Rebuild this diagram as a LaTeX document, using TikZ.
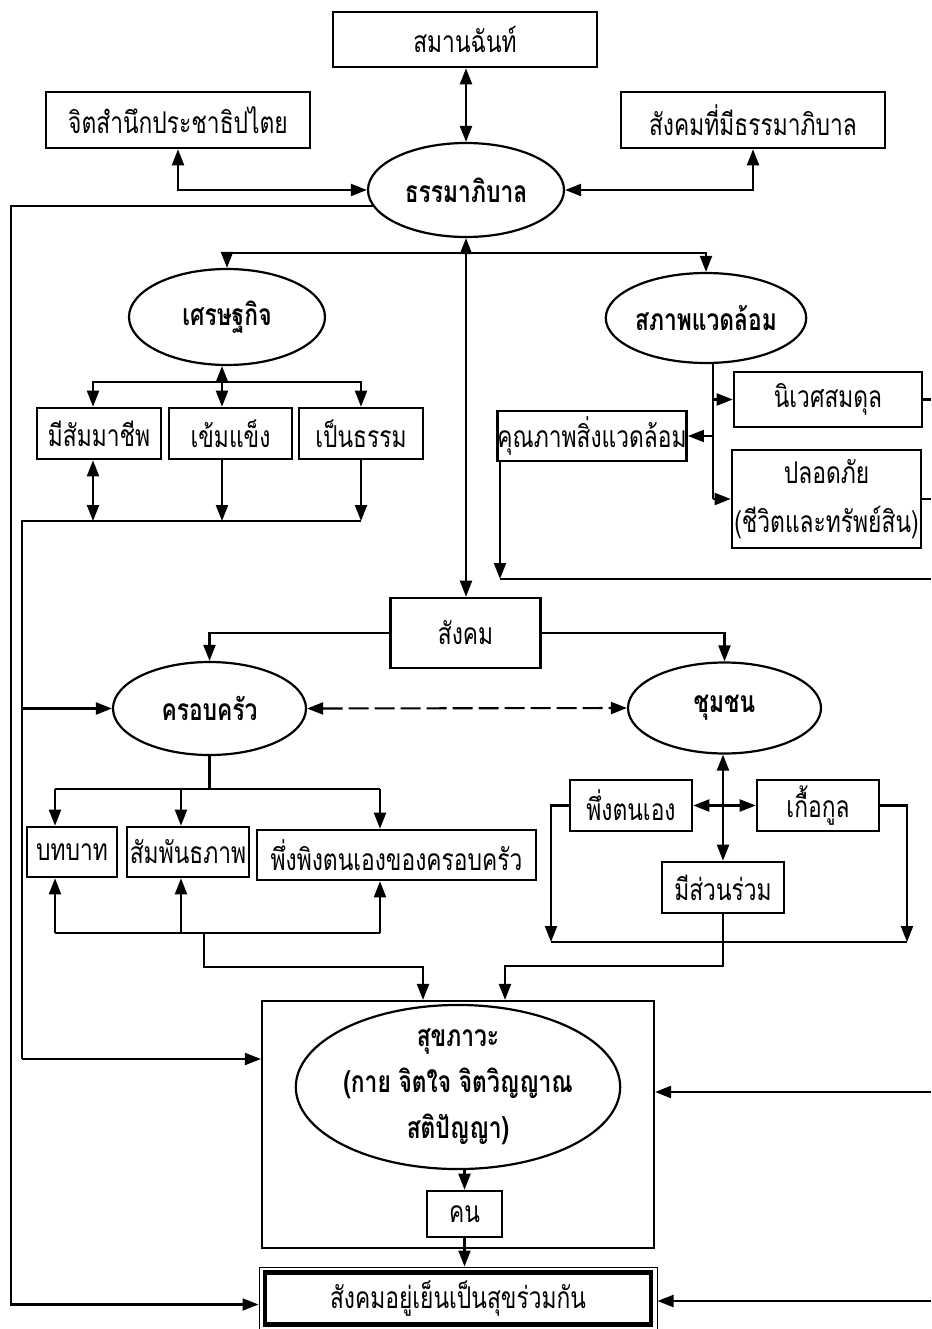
\documentclass[tikz,border=0pt]{standalone}
\usepackage{fontspec}
\newfontfamily\thai[Script=Thai, FakeStretch=0.76]{Loma}
\usetikzlibrary{arrows.meta,shapes.geometric,calc}

\begin{document}
\begin{tikzpicture}[x=1pt,y=-1pt,
  txt/.style={font=\thai\fontsize{30}{46}\selectfont, align=center},
  box/.style={txt, draw, line width=2.6pt, fill=white, inner sep=0pt},
  oval/.style={txt, draw, ellipse, line width=2.2pt, fill=white, inner sep=0pt, font=\thai\bfseries\fontsize{30}{46}\selectfont},
  link/.style={line width=2.1pt},
  arr/.style={link, -{Triangle[length=16pt,width=12pt]}},
  both/.style={link, {Triangle[length=16pt,width=12pt]}-{Triangle[length=16pt,width=12pt]}},
  dashlink/.style={both, dash pattern=on 20pt off 6pt},
]
\useasboundingbox (0,0) rectangle (931,1329);

% ---- top level ----
\node[box, minimum width=264pt, minimum height=55pt] (saman)   at (465,39.5) {สมานฉันท์};
\node[box, minimum width=264pt, minimum height=56pt] (jit)     at (178,120)  {จิตสำนึกประชาธิปไตย};
\node[box, minimum width=264pt, minimum height=56pt] (sangthi) at (753,120)  {สังคมที่มีธรรมาภิบาล};
\node[oval, minimum width=196pt, minimum height=94pt] (thamma) at (466,190) {ธรรมาภิบาล};

% ---- economy and environment ----
\node[oval, minimum width=196pt, minimum height=96pt] (econ) at (227,317) {เศรษฐกิจ};
\node[oval, minimum width=198pt, minimum height=90pt] (env)  at (706,318) {สภาพแวดล้อม};

\node[box, minimum width=124pt, minimum height=51pt] (mee)  at (99,433.5)  {มีสัมมาชีพ};
\node[box, minimum width=123pt, minimum height=51pt] (khem) at (230.5,433.5) {เข้มแข็ง};
\node[box, minimum width=124pt, minimum height=51pt] (pen)  at (361,433.5) {เป็นธรรม};

\node[box, minimum width=186pt, minimum height=50pt] (khun)  at (592,436)   {คุณภาพสิ่งแวดล้อม};
\node[box, minimum width=188pt, minimum height=55pt] (nivet) at (828,399.5) {นิเวศสมดุล};
\node[box, minimum width=189pt, minimum height=98pt, font=\thai\fontsize{30}{49}\selectfont] (plod) at (826.5,499) {ปลอดภัย\\(ชีวิตและทรัพย์สิน)};

% ---- society ----
\node[box, minimum width=150pt, minimum height=70pt] (sangkhom) at (465.5,633) {สังคม};
\node[oval, minimum width=193pt, minimum height=93pt] (family)    at (209.5,708.5) {ครอบครัว};
\node[oval, minimum width=193pt, minimum height=91pt] (community) at (724.5,708)   {ชุมชน};

\node[box, minimum width=90pt,  minimum height=50pt] (bot)     at (72,852)    {บทบาท};
\node[box, minimum width=122pt, minimum height=50pt] (samphan) at (188,852)   {สัมพันธภาพ};
\node[box, minimum width=279pt, minimum height=50pt] (phueng)  at (396.5,855) {พึ่งพิงตนเองของครอบครัว};

\node[box, minimum width=122pt, minimum height=51pt] (pheungton) at (631,805.5) {พึ่งตนเอง};
\node[box, minimum width=122pt, minimum height=51pt] (kueakun)   at (818,805.5) {เกื้อกูล};
\node[box, minimum width=122pt, minimum height=51pt] (meesuan)   at (723,887.5) {มีส่วนร่วม};

% ---- well-being ----
\node[draw, line width=2.2pt, fill=white, minimum width=392pt, minimum height=247pt] (outer) at (458,1124.5) {};
\node[oval, minimum width=320pt, minimum height=150pt] (health) at (458,1087) {สุขภาวะ\\(กาย จิตใจ จิตวิญญาณ\\สติปัญญา)};
\node[box, minimum width=75pt, minimum height=46pt] (khon) at (464.5,1214) {คน};

\node[draw, line width=1pt, fill=white, minimum width=398pt, minimum height=63pt] (finalframe) at (458,1298.5) {};
\node[box, line width=4.5pt, minimum width=386pt, minimum height=52pt] (final) at (458,1298.5) {สังคมอยู่เย็นเป็นสุขร่วมกัน};

% ---- rail and bus coordinates ----
\coordinate (railO) at (11,0);
\coordinate (railI) at (22,521);
\coordinate (R)     at (931,0);
\coordinate (busT)  at (0,253);
\coordinate (ex)    at (222,0);
\coordinate (busE)  at (0,382);
\coordinate (et)    at (713,0);
\coordinate (busV)  at (500,579);
\coordinate (busF)  at (0,789);
\coordinate (busG)  at (0,933);
\coordinate (fa)    at (55,0);
\coordinate (fb)    at (181,0);
\coordinate (fc)    at (380,0);
\coordinate (fd)    at (204,967);
\coordinate (cl)    at (551,0);
\coordinate (cr)    at (907,0);
\coordinate (busC)  at (0,942);
\coordinate (cd)    at (0,966);
\coordinate (inL)   at (423,0);
\coordinate (inR)   at (505,0);
\coordinate (hwest) at ([yshift=65.5pt]outer.west);
\coordinate (heast) at ([yshift=32.5pt]outer.east);
\coordinate (fwest) at ([yshift=-6pt]finalframe.west);
\coordinate (feast) at ([yshift=-2.5pt]finalframe.east);

% ---- connectors: governance ----
\draw[both] (saman.south -| thamma.north) -- (thamma.north);
\draw[both] (jit.south) |- (thamma.west);
\draw[both] (sangthi.south) |- (thamma.east);
\draw[arr] (thamma.190) -- (thamma.190 -| railO) -- (railO |- fwest) -- (fwest);
\draw[both] (thamma.south) -- (thamma.south |- sangkhom.north);
\draw[arr] (thamma.south |- busT) -| (econ.north);
\draw[arr] (thamma.south |- busT) -| (env.north);

% ---- connectors: economy ----
\draw[both] (ex |- econ.south) -- (ex |- khem.north);
\draw[arr] (ex |- busE) -| ([xshift=-6pt]mee.north);
\draw[arr] (ex |- busE) -| (pen.north);
\draw[both] ([xshift=-6pt]mee.south) -- ([xshift=-6pt]mee.south |- railI);
\draw[arr] (ex |- khem.south) -- (ex |- railI);
\draw[arr] (pen.south) -- (pen.south |- railI);
\draw[link] (pen.south |- railI) -- (railI) -- (railI |- hwest);
\draw[arr] (railI |- hwest) -- (hwest);
\draw[arr] (railI |- family.west) -- (family.west);

% ---- connectors: environment ----
\draw[link] (et |- env.south) -- (et |- plod.west);
\draw[arr] (et |- nivet.west) -- (nivet.west);
\draw[arr] (et |- plod.west) -- (plod.west);
\draw[arr] (et |- khun.east) -- (khun.east);
\draw[link] (nivet.east) -- (nivet.east -| R);
\draw[link] (plod.east) -- (plod.east -| R);
\draw[arr] (busV |- khun.south) -- (busV);
\draw[link] (busV) -- (busV -| R);

% ---- connectors: society ----
\draw[arr] (sangkhom.west) -| (family.north);
\draw[arr] (sangkhom.east) -| (community.north);
\draw[dashlink] (family.east) -- (community.west);

% ---- connectors: family ----
\draw[link] (family.south) -- (family.south |- busF);
\draw[link] (fa |- busF) -- (fc |- busF);
\draw[arr] (fa |- busF) -- (fa |- bot.north);
\draw[arr] (fb |- busF) -- (fb |- samphan.north);
\draw[arr] (fc |- busF) -- (fc |- phueng.north);
\draw[link] (fa |- busG) -- (fc |- busG);
\draw[arr] (fa |- busG) -- (fa |- bot.south);
\draw[arr] (fb |- busG) -- (fb |- samphan.south);
\draw[arr] (fc |- busG) -- (fc |- phueng.south);
\draw[arr] (fd |- busG) -- (fd) -| (inL |- outer.north);

% ---- connectors: community ----
\draw[both] (meesuan.north |- community.south) -- (meesuan.north);
\draw[both] (pheungton.east) -- (kueakun.west);
\draw[arr] (pheungton.west) -| (cl |- busC);
\draw[arr] (kueakun.east) -| (cr |- busC);
\draw[link] (cl |- busC) -- (cr |- busC);
\draw[arr] (meesuan.south) -- (meesuan.south |- cd) -| (inR |- outer.north);

% ---- connectors: well-being ----
\draw[arr] (khon.north |- health.south) -- (khon.north);
\draw[arr] (khon.south) -- (khon.south |- finalframe.north);
\draw[arr] (R |- heast) -- (heast);
\draw[arr] (R |- feast) -- (feast);
\end{tikzpicture}
\end{document}
